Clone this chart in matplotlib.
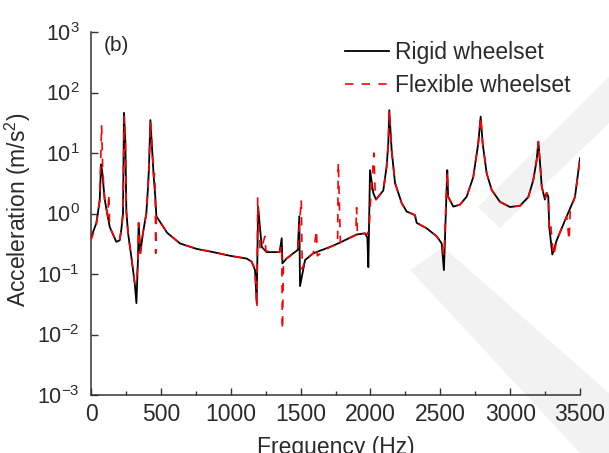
import matplotlib
matplotlib.use('Agg')
import matplotlib.pyplot as plt
from matplotlib.patches import Polygon
from matplotlib.ticker import LogLocator, MultipleLocator, NullLocator, LogFormatterSciNotation

plt.rcParams['font.family'] = ['Liberation Sans', 'DejaVu Sans']
plt.rcParams['mathtext.fontset'] = 'custom'
plt.rcParams['mathtext.rm'] = 'Liberation Sans'
plt.rcParams['mathtext.it'] = 'Liberation Sans:italic'

# 刚性轮对 (Rigid wheelset)
rigid_freq = [0, 38, 62, 72, 80, 98, 134, 181, 205, 217, 229, 236, 246, 253, 265, 289, 313, 325,
              336, 341, 353, 372, 396, 408, 415, 425, 439, 449, 460, 468, 545, 637, 756, 875, 995,
              1114, 1150, 1174, 1186, 1196, 1222, 1257, 1350, 1365, 1370, 1400, 1448, 1480, 1491,
              1496, 1532, 1591, 1711, 1782, 1901, 1961, 1978, 1985, 1997, 2020, 2040, 2092, 2116,
              2128, 2135, 2152, 2176, 2224, 2259, 2319, 2331, 2402, 2474, 2510, 2526, 2550, 2556,
              2593, 2641, 2689, 2736, 2772, 2789, 2803, 2832, 2868, 2927, 2999, 3070, 3130, 3166,
              3190, 3202, 3214, 3226, 3249, 3261, 3273, 3280, 3302, 3333, 3405, 3464, 3500]
rigid_acc = [0.40, 0.69, 1.6, 6.5, 5.0, 1.7, 0.6, 0.34, 0.36, 0.54, 1.0, 46, 15, 1.1, 0.48, 0.19, 0.07, 0.033,
             0.17, 0.70, 0.22, 0.48, 1.0, 2.7, 5.9, 35, 10, 4.0, 1.9, 0.9, 0.48, 0.32, 0.26, 0.23, 0.20,
             0.18, 0.16, 0.116, 0.033, 1.3, 0.28, 0.23, 0.23, 0.39, 0.15, 0.18, 0.22, 0.25, 0.9,
             0.063, 0.17, 0.22, 0.28, 0.33, 0.45, 0.47, 0.40, 0.13, 5.2, 2.2, 1.7, 2.4, 6.0,
             14.6, 51, 11, 3.2, 1.48, 1.08, 0.94, 0.70, 0.57, 0.42, 0.32, 0.116, 5.2, 1.9,
             1.3, 1.4, 1.9, 4.0, 14.6, 40, 14.6, 4.6, 2.45, 1.56, 1.28, 1.34, 1.87, 3.6,
             7.7, 15.4, 6.8, 2.8, 1.7, 2.2, 1.9, 0.6, 0.21, 0.36, 0.9, 1.87, 8.2]

# 柔性轮对 (Flexible wheelset)
flex_freq = [0, 38, 62, 76, 84, 98, 120, 127, 134, 181, 205, 217, 229, 238, 246, 253, 265, 289, 313, 325,
             336, 341, 353, 372, 396, 408, 415, 427, 439, 449, 456, 460, 463, 468, 545, 637, 756, 875, 995,
             1114, 1150, 1174, 1188, 1193, 1210, 1222, 1245, 1252, 1350, 1365, 1370, 1378, 1400, 1448,
             1480, 1505, 1512, 1532, 1591, 1614, 1620, 1711, 1765, 1770, 1785, 1895, 1901, 1907, 1961,
             1978, 1992, 2000, 2025, 2035, 2040, 2092, 2116, 2128, 2135, 2152, 2176, 2224, 2259, 2319,
             2331, 2402, 2474, 2510, 2526, 2550, 2556, 2593, 2641, 2689, 2736, 2772, 2789, 2803, 2832,
             2868, 2927, 2999, 3070, 3130, 3166, 3190, 3202, 3214, 3226, 3249, 3261, 3273, 3280, 3292,
             3305, 3312, 3333, 3405, 3422, 3430, 3464, 3500]
flex_acc = [0.36, 0.65, 1.7, 29, 5.0, 1.7, 0.9, 2.1, 0.6, 0.34, 0.36, 0.54, 1.0, 40, 15, 1.1, 0.48, 0.19, 0.07, 0.07,
            0.17, 0.70, 0.22, 0.48, 1.0, 2.7, 5.9, 33, 10, 4.0, 4.5, 1.9, 0.22, 0.9, 0.48, 0.32, 0.26, 0.23, 0.20,
            0.18, 0.16, 0.12, 0.028, 1.8, 0.25, 0.28, 0.42, 0.24, 0.23, 0.3, 0.012, 0.17, 0.18, 0.22,
            0.25, 1.7, 0.12, 0.17, 0.22, 0.53, 0.2, 0.28, 0.31, 7.0, 0.33, 0.44, 1.25, 0.45, 0.47,
            0.45, 0.6, 1.5, 10, 1.8, 1.7, 2.4, 6.0, 14.6, 51, 11, 3.2, 1.48, 1.08, 0.94,
            0.70, 0.57, 0.42, 0.32, 0.2, 4.9, 1.9, 1.3, 1.4, 1.9, 4.0, 14.6, 40, 14.6, 4.6,
            2.45, 1.56, 1.28, 1.34, 1.87, 3.6, 7.7, 15.4, 6.8, 2.8, 1.7, 2.2, 1.9, 0.5, 0.6,
            0.25, 0.2, 0.36, 0.9, 0.36, 1.1, 1.87, 8.2]

x_ticks = [0, 500, 1000, 1500, 2000, 2500, 3000, 3500]

fig = plt.figure(figsize=(6.09, 4.53), dpi=100)
ax = fig.add_axes([91 / 609, 58 / 453, 489 / 609, 363 / 453])
ax.patch.set_alpha(0)

# 背景水印（两条浅灰色斜带）
upper_band = [(478, 207), (609, 77), (609, 123), (500, 228)]
lower_band = [(410, 270), (443, 247), (609, 393), (609, 453), (580, 453)]
for band in [upper_band, lower_band]:
    wm = Polygon([(x / 609, 1 - y / 453) for x, y in band], closed=True, transform=fig.transFigure,
                 facecolor='#f2f2f2', edgecolor='none', zorder=-5)
    fig.patches.append(wm)

ax.plot(rigid_freq, rigid_acc, color='black', lw=1.3, label='Rigid wheelset', zorder=2)
ax.plot(flex_freq, flex_acc, color='red', lw=1.2, linestyle=(0, (5, 5)), label='Flexible wheelset', zorder=3)

ax.set_yscale('log')
ax.set_xlim(0, 3500)
ax.set_ylim(1e-3, 1e3)
ax.set_xticks(x_ticks)
ax.xaxis.set_minor_locator(MultipleLocator(250))
ax.yaxis.set_major_locator(LogLocator(base=10, numticks=10))
ax.yaxis.set_major_formatter(LogFormatterSciNotation())
ax.yaxis.set_minor_locator(NullLocator())

for s in ['top', 'right']:
    ax.spines[s].set_visible(False)
for s in ['left', 'bottom']:
    ax.spines[s].set_linewidth(1.1)
    ax.spines[s].set_color('#333333')

ax.tick_params(which='major', direction='in', length=5, width=1.0, color='#333333',
               labelsize=16.5, labelcolor='#2a2a2a')
ax.tick_params(axis='x', which='major', pad=6)
ax.tick_params(axis='y', which='major', pad=8, labelsize=15.5)
ax.tick_params(which='minor', direction='in', length=3, width=1.0, color='#333333')

ax.set_ylabel('Acceleration (m/s$^2$)', fontsize=16.5, color='#2a2a2a')
ax.yaxis.set_label_coords(-0.118, 0.51)
ax.set_xlabel('Frequency (Hz)', fontsize=16.5, color='#2a2a2a')
ax.xaxis.set_label_coords(0.5, -0.112)

ax.text(0.027, 0.99, '(b)', transform=ax.transAxes, fontsize=15, color='#2a2a2a', va='top', ha='left')

ax.legend(loc='upper left', bbox_to_anchor=(345 / 609, 1 - 41 / 453), bbox_transform=fig.transFigure,
          frameon=False, fontsize=16.5, borderpad=0, borderaxespad=0, handlelength=1.9,
          handletextpad=0.3, labelspacing=0.45, labelcolor='#2a2a2a')

fig.savefig('out.png', dpi=100)
